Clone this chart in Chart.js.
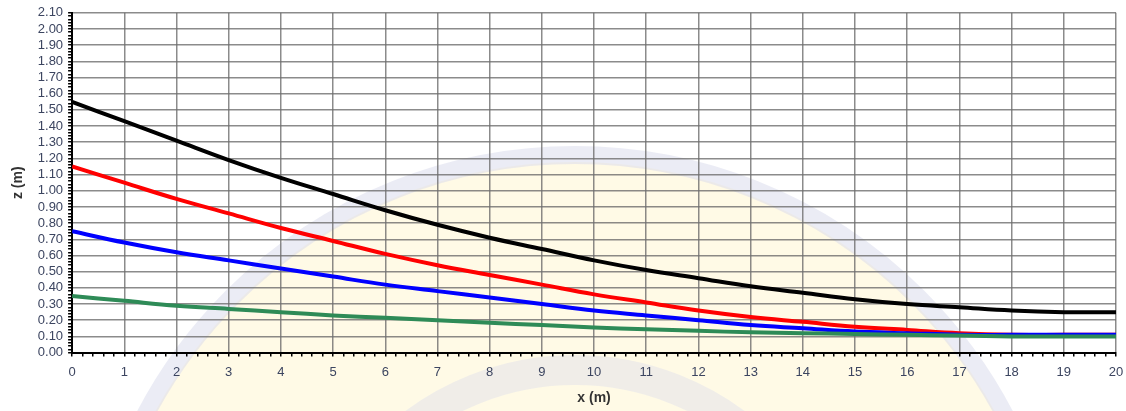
<!DOCTYPE html>
<html>
<head>
<meta charset="utf-8">
<script src="https://cdn.jsdelivr.net/npm/chart.js@4/dist/chart.umd.min.js"></script>
<style>
  html, body { margin: 0; padding: 0; background: #fff; }
  #wrap { width: 1126px; height: 411px; }
</style>
</head>
<body>
<div id="wrap"><canvas id="profileChart"></canvas></div>
<script>
// datos
const xValues = [0, 1, 2, 3, 4, 5, 6, 7, 8, 9, 10, 11, 12, 13, 14, 15, 16, 17, 18, 19, 20];
const zBlack = [1.55, 1.43, 1.31, 1.19, 1.08, 0.98, 0.88, 0.79, 0.71, 0.64, 0.57, 0.51, 0.46, 0.41, 0.37, 0.33, 0.30, 0.28, 0.26, 0.25, 0.25];
const zRed   = [1.15, 1.05, 0.95, 0.86, 0.77, 0.69, 0.61, 0.54, 0.48, 0.42, 0.36, 0.31, 0.26, 0.22, 0.19, 0.16, 0.14, 0.12, 0.11, 0.11, 0.11];
const zBlue  = [0.75, 0.68, 0.62, 0.57, 0.52, 0.47, 0.42, 0.38, 0.34, 0.30, 0.26, 0.23, 0.20, 0.17, 0.15, 0.13, 0.12, 0.11, 0.11, 0.11, 0.11];
const zGreen = [0.35, 0.32, 0.29, 0.27, 0.25, 0.23, 0.215, 0.20, 0.185, 0.17, 0.155, 0.145, 0.135, 0.125, 0.12, 0.115, 0.11, 0.105, 0.10, 0.10, 0.10];
const seriesColors = ['#000000', '#ff0000', '#0000ff', '#2e8b57'];

const isMajor = (v, step) => Math.abs(v / step - Math.round(v / step)) < 1e-6;

// marca de agua tenue de fondo
const watermark = {
    id: 'watermark',
    beforeDraw(chart) {
        const ctx = chart.ctx;
        ctx.save();
        ctx.fillStyle = 'rgba(255, 246, 205, 0.5)';
        ctx.beginPath();
        ctx.arc(575, 640, 478, 0, Math.PI * 2);
        ctx.fill();
        ctx.lineWidth = 18;
        ctx.strokeStyle = 'rgba(218, 221, 237, 0.55)';
        ctx.beginPath();
        ctx.arc(575, 640, 485, 0, Math.PI * 2);
        ctx.stroke();
        ctx.lineWidth = 30;
        ctx.strokeStyle = 'rgba(218, 221, 237, 0.4)';
        ctx.beginPath();
        ctx.arc(575, 640, 270, 0, Math.PI * 2);
        ctx.stroke();
        ctx.restore();
    }
};

const datasets = [zBlack, zRed, zBlue, zGreen].map((vals, i) => ({
    data: xValues.map((x, k) => ({ x: x, y: vals[k] })),
    borderColor: seriesColors[i],
    borderWidth: 4,
    pointRadius: 0,
    tension: 0.4,
    fill: false
}));
datasets.reverse();

const ctx = document.getElementById('profileChart').getContext('2d');
new Chart(ctx, {
    type: 'line',
    data: { datasets: datasets },
    plugins: [watermark],
    options: {
        responsive: true,
        maintainAspectRatio: false,
        animation: false,
        layout: { padding: { top: 5, right: 0, left: 10, bottom: 4 } },
        plugins: {
            legend: { display: false },
            tooltip: { enabled: false }
        },
        scales: {
            x: {
                type: 'linear',
                min: 0,
                max: 20,
                afterFit: scale => { scale.paddingRight = 10; },
                border: { color: '#000', width: 2 },
                grid: {
                    color: c => isMajor(c.tick.value, 1) ? 'rgba(110,110,110,0.8)' : 'rgba(0,0,0,0)',
                    lineWidth: 1.5,
                    tickColor: '#000',
                    tickLength: 4
                },
                ticks: {
                    stepSize: 0.2,
                    autoSkip: false,
                    maxRotation: 0,
                    padding: 8,
                    color: '#3c4560',
                    font: { family: 'Liberation Sans', size: 13 },
                    callback: v => isMajor(v, 1) ? String(Math.round(v)) : ''
                },
                title: {
                    display: true,
                    text: 'x (m)',
                    color: '#333',
                    font: { family: 'Liberation Sans', size: 14, weight: 'bold' },
                    padding: { top: 2, bottom: 0 }
                }
            },
            y: {
                min: 0,
                max: 2.1,
                border: { color: '#000', width: 2 },
                grid: {
                    color: c => isMajor(c.tick.value, 0.1) ? 'rgba(110,110,110,0.8)' : 'rgba(0,0,0,0)',
                    lineWidth: 1.5,
                    tickColor: '#000',
                    tickLength: 4
                },
                ticks: {
                    stepSize: 0.02,
                    autoSkip: false,
                    padding: 5,
                    color: '#3c4560',
                    font: { family: 'Liberation Sans', size: 13 },
                    callback: v => isMajor(v, 0.1) ? v.toFixed(2) : ''
                },
                title: {
                    display: true,
                    text: 'z (m)',
                    color: '#333',
                    font: { family: 'Liberation Sans', size: 14, weight: 'bold' },
                    padding: { top: 0, bottom: 6 }
                }
            }
        }
    }
});
</script>
</body>
</html>
